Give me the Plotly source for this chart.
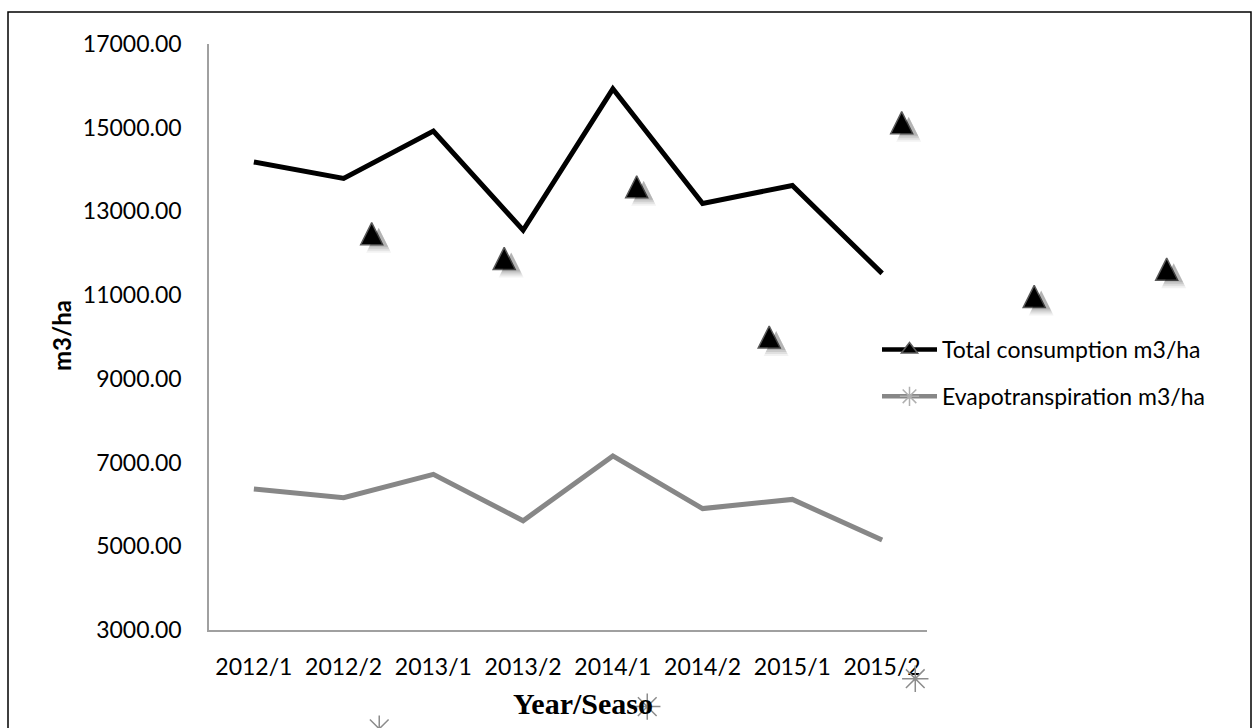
import plotly.graph_objects as go

# Season labels and per-season water figures (m3/ha)
seasons = ["2012/1", "2012/2", "2013/1", "2013/2", "2014/1", "2014/2", "2015/1", "2015/2"]
total_consumption = [14180, 13790, 14920, 12550, 15930, 13190, 13620, 11520]
evapotranspiration = [6370, 6160, 6720, 5610, 7160, 5900, 6120, 5150]
y_ticks = [3000, 5000, 7000, 9000, 11000, 13000, 15000, 17000]

W, H = 1259, 728
FONT = "Lato"
BLACK = "#000000"
GREY_LINE = "#878787"
AXIS_GREY = "#a0a0a0"
STAR_GREY = "#8c8c8c"

# plot area in page pixels
PX_L, PX_R, PX_T, PX_B = 209, 927, 44, 630

# full-page scale used by the triangle markers (px per category / px per unit)
TRI_X0, TRI_DX = -2.8053, 9.5019
TRI_Y0, TRI_DY = 6209.2, 11482.6
SHADOW_SHIFT_X, SHADOW_SHIFT_Y = 7, 5  # px
PX_PER_CAT = W / TRI_DX
PX_PER_UNIT = H / TRI_DY


def hdom(a, b):
    return [a / W, b / W]


def vdom(top, bottom):
    return [1 - bottom / H, 1 - top / H]


fig = go.Figure()

# main lines
fig.add_trace(go.Scatter(
    x=seasons, y=total_consumption, mode="lines",
    line=dict(color=BLACK, width=5), showlegend=False, hoverinfo="skip",
    xaxis="x", yaxis="y"))
fig.add_trace(go.Scatter(
    x=seasons, y=evapotranspiration, mode="lines",
    line=dict(color=GREY_LINE, width=5), showlegend=False, hoverinfo="skip",
    xaxis="x", yaxis="y"))

# marker layer, drawn on its own (enlarged) full-page scale; soft shadow first
for size, alpha in [(25, 0.05), (23, 0.07), (21, 0.09), (19, 0.11)]:
    fig.add_trace(go.Scatter(
        x=seasons, y=total_consumption, mode="markers",
        marker=dict(symbol="arrow-up", size=size, color=f"rgba(0,0,0,{alpha})",
                    line=dict(width=0)),
        showlegend=False, hoverinfo="skip", xaxis="x4", yaxis="y4"))

fig.add_trace(go.Scatter(
    x=seasons, y=total_consumption, mode="markers",
    marker=dict(symbol="arrow-up", size=22, color=BLACK,
                line=dict(color="#5a5a5a", width=1.5)),
    showlegend=False, hoverinfo="skip", xaxis="x2", yaxis="y2"))

fig.add_trace(go.Scatter(
    x=seasons, y=evapotranspiration, mode="markers",
    marker=dict(symbol="asterisk-open", size=22, color=STAR_GREY,
                line=dict(color=STAR_GREY, width=1.5)),
    showlegend=False, hoverinfo="skip", xaxis="x3", yaxis="y3"))

# legend entries
fig.add_trace(go.Scatter(
    x=[None], y=[None], mode="lines+markers", name="Total consumption m3/ha",
    line=dict(color=BLACK, width=4.5),
    marker=dict(symbol="triangle-up", size=14, color=BLACK,
                line=dict(color="#5a5a5a", width=1.5)),
    legendgroup="a", xaxis="x", yaxis="y"))
fig.add_trace(go.Scatter(
    x=[None], y=[None], mode="lines+markers", name="Evapotranspiration m3/ha",
    line=dict(color=GREY_LINE, width=4.5),
    marker=dict(symbol="asterisk-open", size=16, color="#b0b0b0",
                line=dict(color="#b0b0b0", width=1.5)),
    legendgroup="b", xaxis="x", yaxis="y"))

hidden = dict(visible=False, showgrid=False, zeroline=False, fixedrange=True)

sx = SHADOW_SHIFT_X / PX_PER_CAT
sy = SHADOW_SHIFT_Y / PX_PER_UNIT

fig.update_layout(
    width=W, height=H, autosize=False,
    margin=dict(l=0, r=0, t=0, b=0, pad=0, autoexpand=False),
    paper_bgcolor="white", plot_bgcolor="rgba(0,0,0,0)",
    font=dict(family=FONT, color=BLACK),
    xaxis=dict(
        type="category", categoryarray=seasons, range=[-0.5, len(seasons) - 0.5],
        domain=hdom(PX_L, PX_R), anchor="y", automargin=False,
        showline=True, linecolor=AXIS_GREY, linewidth=1.5,
        showgrid=False, zeroline=False, ticks="",
        tickfont=dict(family=FONT, size=23, color=BLACK), ticklabelstandoff=16),
    yaxis=dict(
        range=[3000, 17000], domain=vdom(PX_T, PX_B), anchor="x", automargin=False,
        tickvals=y_ticks, tickformat=".2f",
        showline=True, linecolor=AXIS_GREY, linewidth=1.5,
        showgrid=False, zeroline=False, ticks="",
        tickfont=dict(family=FONT, size=23, color=BLACK), ticklabelstandoff=21),
    # triangle marker scale
    xaxis2=dict(type="category", categoryarray=seasons,
                range=[TRI_X0, TRI_X0 + TRI_DX],
                domain=[0, 1], anchor="y2", **hidden),
    yaxis2=dict(range=[TRI_Y0, TRI_Y0 + TRI_DY], domain=[0, 1], anchor="x2", **hidden),
    # asterisk marker scale
    xaxis3=dict(type="category", categoryarray=seasons, range=[-2.83, 6.565],
                domain=[0, 1], anchor="y3", **hidden),
    yaxis3=dict(range=[6382.7, 17865.3], domain=[0, 1], anchor="x3", **hidden),
    # soft shadow under the triangles (same scale, nudged right and down)
    xaxis4=dict(type="category", categoryarray=seasons,
                range=[TRI_X0 - sx, TRI_X0 + TRI_DX - sx],
                domain=[0, 1], anchor="y4", **hidden),
    yaxis4=dict(range=[TRI_Y0 + sy, TRI_Y0 + TRI_DY + sy],
                domain=[0, 1], anchor="x4", **hidden),
    legend=dict(
        x=877 / W, y=1 - 328 / H, xanchor="left", yanchor="top",
        font=dict(family=FONT, size=23, color=BLACK),
        bgcolor="rgba(0,0,0,0)", borderwidth=0,
        itemwidth=55, tracegroupgap=14, traceorder="grouped"),
    showlegend=True,
    annotations=[
        dict(text="m3/ha", x=61 / W, y=1 - 336 / H, xref="paper", yref="paper",
             xanchor="center", yanchor="middle",
             textangle=-90, showarrow=False,
             font=dict(family=FONT, size=24, color=BLACK, weight="bold")),
        dict(text="Year/Seaso", x=583 / W, y=1 - 703 / H, xref="paper", yref="paper",
             xanchor="center", yanchor="middle", showarrow=False,
             font=dict(family="Liberation Serif", size=30, color=BLACK, weight="bold")),
    ],
    shapes=[
        dict(type="rect", xref="paper", yref="paper",
             x0=8 / W, x1=1251 / W, y0=-0.05, y1=1 - 12 / H,
             line=dict(color=BLACK, width=1.5), fillcolor="rgba(0,0,0,0)", layer="above"),
    ],
)

fig.write_html("out.html")
